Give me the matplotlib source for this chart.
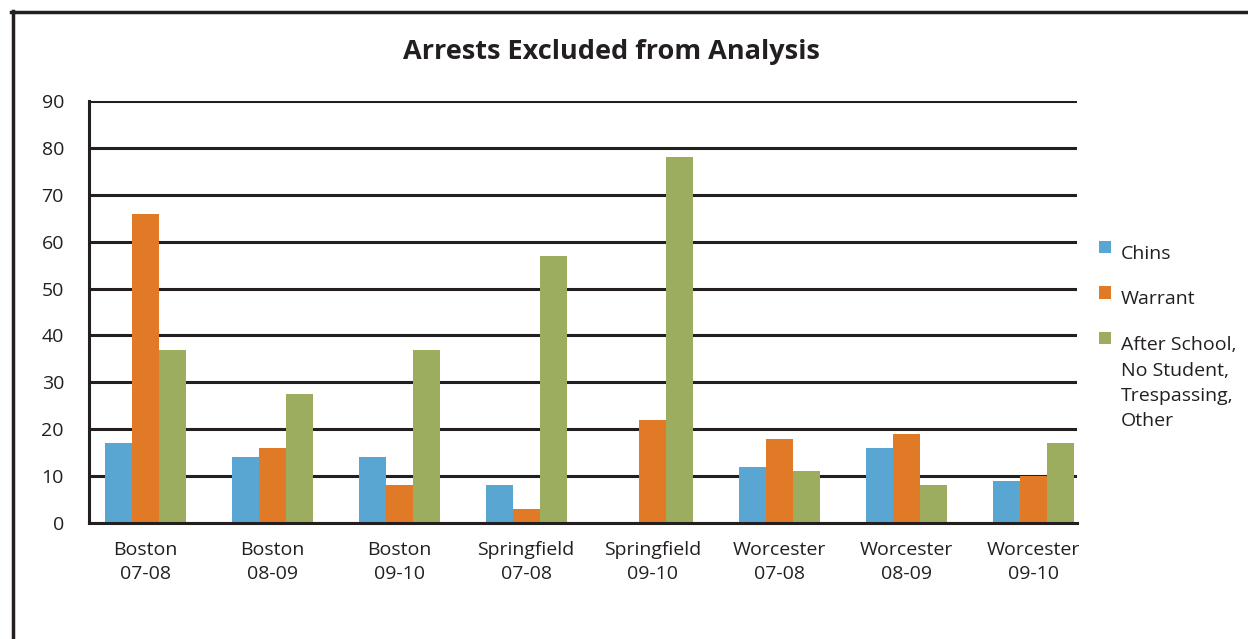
import matplotlib
matplotlib.use("Agg")
import matplotlib.pyplot as plt
import numpy as np
from matplotlib.lines import Line2D
from matplotlib.patches import Rectangle

# data
groups = ["Boston\n07-08", "Boston\n08-09", "Boston\n09-10", "Springfield\n07-08",
          "Springfield\n09-10", "Worcester\n07-08", "Worcester\n08-09", "Worcester\n09-10"]
chins = [17, 14, 14, 8, 0, 12, 16, 9]
warrant = [66, 16, 8, 3, 22, 18, 19, 10]
other = [37, 27.5, 37, 57, 78, 11, 8, 17]
series_names = ["Chins", "Warrant", "After School,\nNo Student,\nTrespassing,\nOther"]
colors = ["#59A6D3", "#E07A26", "#9CAD5F"]
ink = "#231F20"

plt.rcParams['font.family'] = ['Open Sans', 'DejaVu Sans']

W, H = 1248, 639
fig = plt.figure(figsize=(W/100, H/100), dpi=100)
ax = fig.add_axes([89/W, 1 - 523/H, (1077 - 89)/W, (523 - 101)/H])

x = np.arange(len(groups))
w = 0.213
for i, vals in enumerate([chins, warrant, other]):
    ax.bar(x + (i - 1)*w, vals, width=w, color=colors[i], zorder=3)

ax.set_xlim(-0.447, 7.345)
ax.set_ylim(0, 90)
ax.set_yticks(range(0, 91, 10))
ax.yaxis.grid(True, color=ink, linewidth=2.2, zorder=1)
ax.set_axisbelow(True)
for s in ["top", "right"]:
    ax.spines[s].set_visible(False)
for s in ["left", "bottom"]:
    ax.spines[s].set_linewidth(2.2)
    ax.spines[s].set_color(ink)
ax.spines["bottom"].set_zorder(4)

ax.set_xticks(x)
ax.set_xticklabels(groups, fontsize=14, color=ink, linespacing=1.45)
ax.tick_params(axis="x", length=0, pad=13)
ax.tick_params(axis="y", length=0, pad=18, labelsize=14, labelcolor=ink)

fig.text(611/W, 1 - 52/H, "Arrests Excluded from Analysis", ha="center", va="center",
         fontsize=19.5, fontweight="bold", color=ink)

# legend: square next to the first line of each entry
line_h = 25.5
y_base = 259
for name, c in zip(series_names, colors):
    fig.add_artist(Rectangle((1099/W, 1 - (y_base - 6)/H), 12/W, 12/H,
                             transform=fig.transFigure, color=c, linewidth=0))
    lines = name.split("\n")
    for k, ln in enumerate(lines):
        fig.text(1121/W, 1 - (y_base + k*line_h)/H, ln, ha="left", va="baseline",
                 fontsize=14, color=ink)
    y_base += 45.5 + (len(lines) - 1)*line_h

# outer frame (left and top edges)
fig.add_artist(Line2D([12.5/W, 12.5/W], [0, 1 - 11/H], transform=fig.transFigure,
                      color=ink, linewidth=2.5))
fig.add_artist(Line2D([11/W, 1], [1 - 11.5/H, 1 - 11.5/H], transform=fig.transFigure,
                      color=ink, linewidth=2.5))

fig.savefig("out.png", dpi=100)
